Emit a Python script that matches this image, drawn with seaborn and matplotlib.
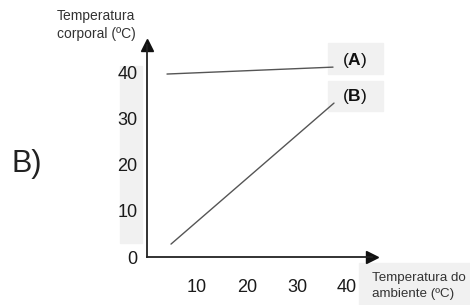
import matplotlib
matplotlib.use("Agg")
import matplotlib.pyplot as plt
from matplotlib.patches import Rectangle
import seaborn as sns
import pandas as pd

# values
ambiente_a = [4.0, 37.2]
corporal_a = [39.7, 41.2]
ambiente_b = [4.8, 37.4]
corporal_b = [2.8, 33.4]
x_ticks = [10, 20, 30, 40]
y_ticks = [0, 10, 20, 30, 40]

sns.set_style("white")
plt.rcParams['font.family'] = ['Liberation Sans', 'DejaVu Sans']
plt.rcParams['mathtext.fontset'] = 'custom'
plt.rcParams['mathtext.bf'] = 'Liberation Sans:bold'
plt.rcParams['mathtext.rm'] = 'Liberation Sans'

df = pd.concat([
    pd.DataFrame({'ambiente': ambiente_a, 'corporal': corporal_a, 'serie': 'A'}),
    pd.DataFrame({'ambiente': ambiente_b, 'corporal': corporal_b, 'serie': 'B'}),
])

W, H = 470, 305
fig = plt.figure(figsize=(4.7, 3.05), dpi=100)

def fx(px):
    return px / W

def fy(py):
    return 1 - py / H

# grey backgrounds (as in the scanned figure)
for x0, y0, x1, y1 in [(120, 66, 142, 243), (359, 263, 470, 305),
                       (328, 43, 383, 74), (328, 81, 383, 111)]:
    fig.patches.append(Rectangle((fx(x0), fy(y1)), fx(x1) - fx(x0), fy(y0) - fy(y1),
                                 transform=fig.transFigure, color='#f1f1f1', zorder=-5))

ax = fig.add_axes([fx(147), fy(257), fx(372) - fx(147), fy(45) - fy(257)])
ax.patch.set_alpha(0)

sns.lineplot(data=df, x='ambiente', y='corporal', units='serie', estimator=None,
             color='#555555', linewidth=1.0, ax=ax, legend=False)

ax.set_xlim(0, 45)
ax.set_ylim(0, 46)
ax.set_xticks(x_ticks)
ax.set_yticks(y_ticks)
ax.set_xlabel('')
ax.set_ylabel('')

for s in ['top', 'right']:
    ax.spines[s].set_visible(False)
for s in ['left', 'bottom']:
    ax.spines[s].set_color('#222222')
    ax.spines[s].set_linewidth(1.3)

ax.tick_params(axis='x', direction='in', length=4, width=1, color='#222222',
               pad=16, labelsize=13, labelcolor='#1a1a1a')
ax.tick_params(axis='y', direction='out', length=5, width=1, color='#222222',
               pad=2, labelsize=13, labelcolor='#1a1a1a')

# arrow heads on the axes
ax.plot(1, 0, marker='>', color='#111111', markersize=8, transform=ax.transAxes,
        clip_on=False)
ax.plot(0, 1, marker='^', color='#111111', markersize=8, transform=ax.transAxes,
        clip_on=False)

# series labels
fig.text(fx(355), fy(60), r'($\mathbf{A}$)', ha='center', va='center', fontsize=12.5, color='#111111')
fig.text(fx(355), fy(97), r'($\mathbf{B}$)', ha='center', va='center', fontsize=12.5, color='#111111')

# axis titles
fig.text(fx(57), fy(25), 'Temperatura\ncorporal (ºC)', ha='left', va='center',
         fontsize=10, color='#333333', linespacing=1.3)
fig.text(fx(372), fy(286), 'Temperatura do\nambiente (ºC)', ha='left', va='center',
         fontsize=9.6, color='#333333', linespacing=1.35)

fig.text(fx(11), fy(164), 'B)', ha='left', va='center', fontsize=22, color='#222222')

fig.savefig('out.png', dpi=100)
